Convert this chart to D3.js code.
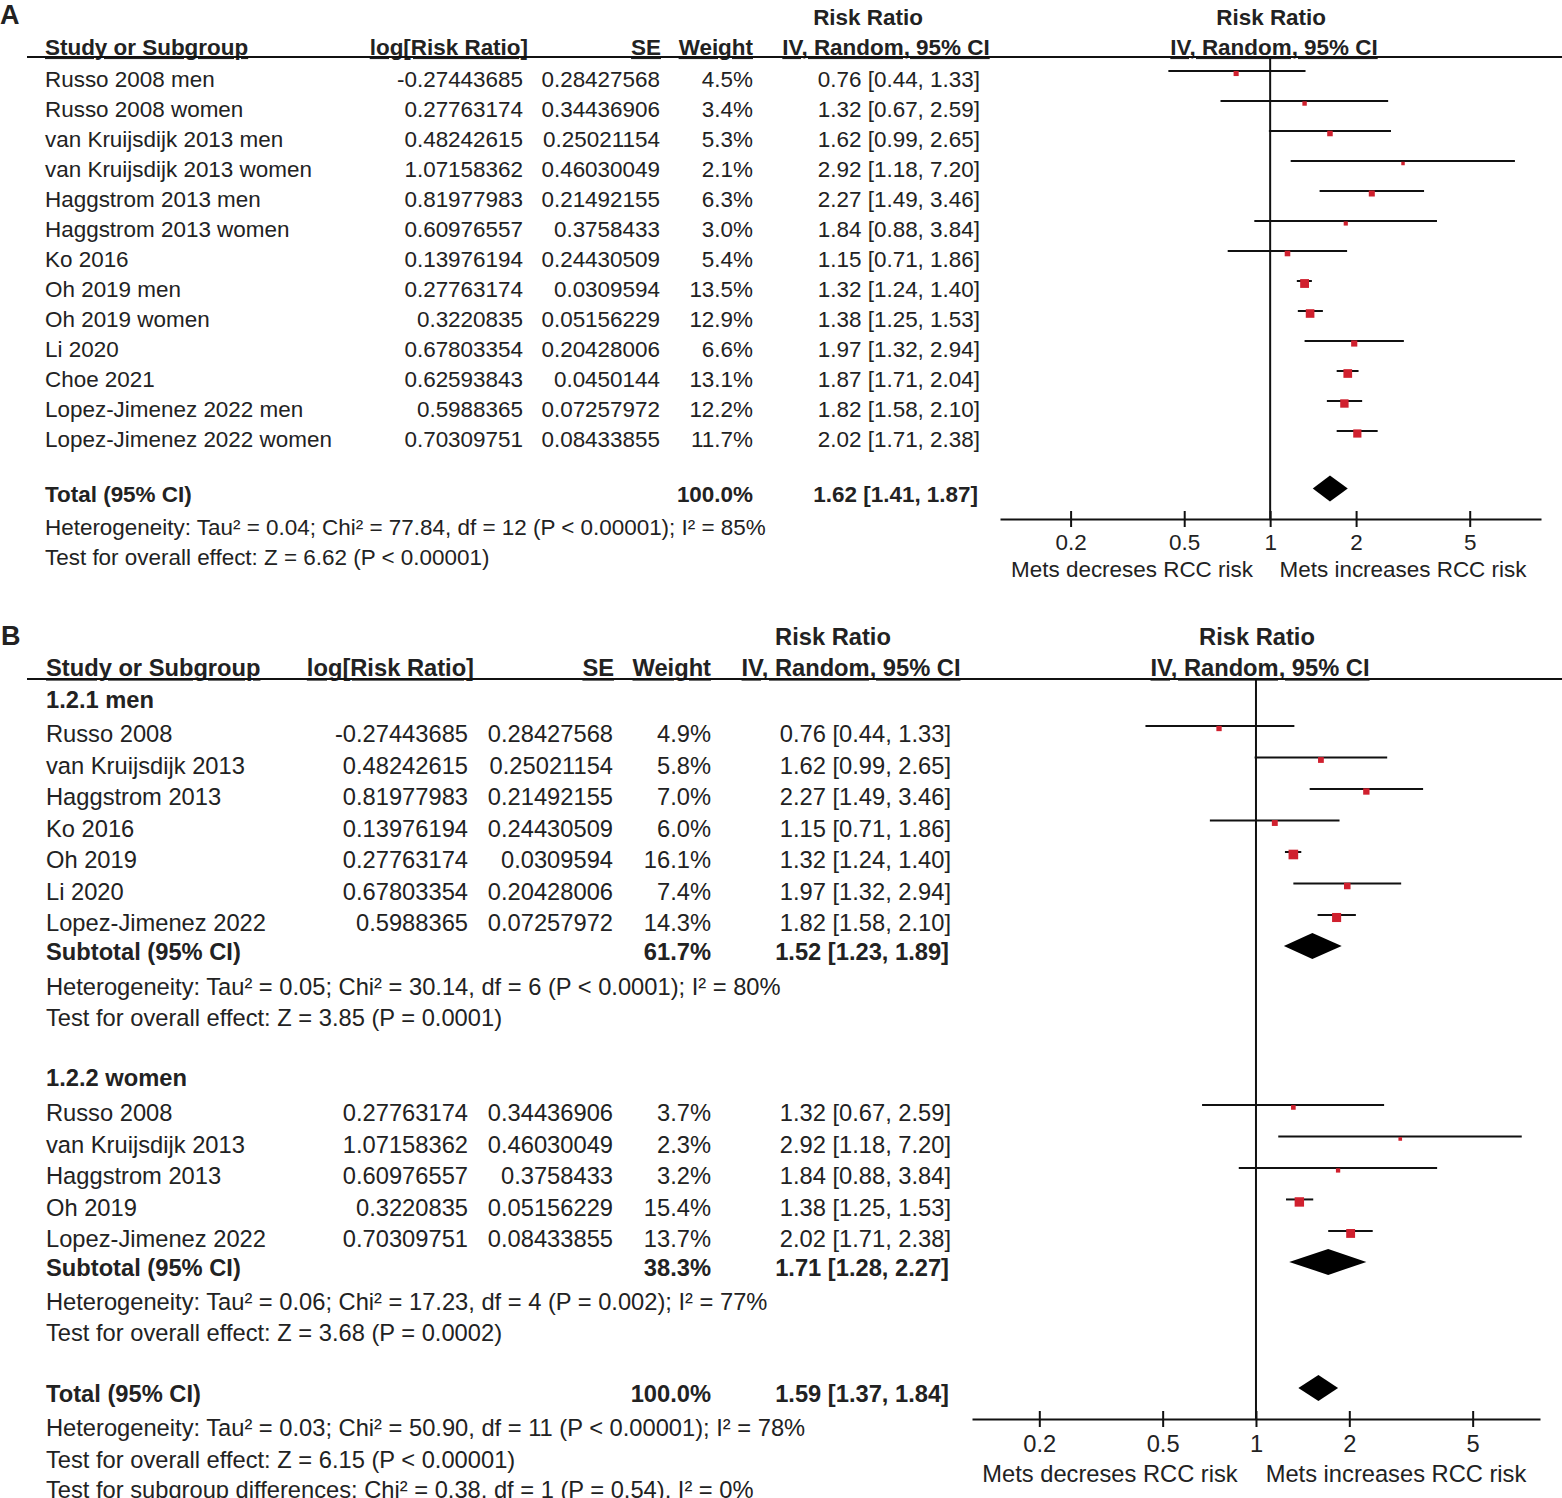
<!DOCTYPE html>
<html>
<head>
<meta charset="utf-8">
<script src="https://cdn.jsdelivr.net/npm/d3@7"></script>
<style>
body { margin: 0; background: #fff; }
svg { display: block; font-family: "Liberation Sans", Arial, Helvetica, sans-serif; }
text { fill: #222; }
</style>
</head>
<body>
<svg id="chart" width="1562" height="1498"></svg>
<script>
// ---- panel A: all studies ----
var studiesA = ["Russo 2008 men", "Russo 2008 women", "van Kruijsdijk 2013 men", "van Kruijsdijk 2013 women",
	"Haggstrom 2013 men", "Haggstrom 2013 women", "Ko 2016", "Oh 2019 men", "Oh 2019 women", "Li 2020",
	"Choe 2021", "Lopez-Jimenez 2022 men", "Lopez-Jimenez 2022 women"];
var logRrA = [-0.27443685, 0.27763174, 0.48242615, 1.07158362, 0.81977983, 0.60976557, 0.13976194,
	0.27763174, 0.3220835, 0.67803354, 0.62593843, 0.5988365, 0.70309751];
var seA = [0.28427568, 0.34436906, 0.25021154, 0.46030049, 0.21492155, 0.3758433, 0.24430509,
	0.0309594, 0.05156229, 0.20428006, 0.0450144, 0.07257972, 0.08433855];
var weightA = [4.5, 3.4, 5.3, 2.1, 6.3, 3.0, 5.4, 13.5, 12.9, 6.6, 13.1, 12.2, 11.7];
var rrA = [0.76, 1.32, 1.62, 2.92, 2.27, 1.84, 1.15, 1.32, 1.38, 1.97, 1.87, 1.82, 2.02];
var lowA = [0.44, 0.67, 0.99, 1.18, 1.49, 0.88, 0.71, 1.24, 1.25, 1.32, 1.71, 1.58, 1.71];
var highA = [1.33, 2.59, 2.65, 7.20, 3.46, 3.84, 1.86, 1.40, 1.53, 2.94, 2.04, 2.10, 2.38];
var totalA = [1.62, 1.41, 1.87];
var notesA = ["Heterogeneity: Tau\u00b2 = 0.04; Chi\u00b2 = 77.84, df = 12 (P < 0.00001); I\u00b2 = 85%",
	"Test for overall effect: Z = 6.62 (P < 0.00001)"];

// ---- panel B: by sex ----
var studiesMen = ["Russo 2008", "van Kruijsdijk 2013", "Haggstrom 2013", "Ko 2016", "Oh 2019", "Li 2020", "Lopez-Jimenez 2022"];
var logRrMen = [-0.27443685, 0.48242615, 0.81977983, 0.13976194, 0.27763174, 0.67803354, 0.5988365];
var seMen = [0.28427568, 0.25021154, 0.21492155, 0.24430509, 0.0309594, 0.20428006, 0.07257972];
var weightMen = [4.9, 5.8, 7.0, 6.0, 16.1, 7.4, 14.3];
var rrMen = [0.76, 1.62, 2.27, 1.15, 1.32, 1.97, 1.82];
var lowMen = [0.44, 0.99, 1.49, 0.71, 1.24, 1.32, 1.58];
var highMen = [1.33, 2.65, 3.46, 1.86, 1.40, 2.94, 2.10];
var subMen = [1.52, 1.23, 1.89];
var subMenWeight = 61.7;
var notesMen = ["Heterogeneity: Tau\u00b2 = 0.05; Chi\u00b2 = 30.14, df = 6 (P < 0.0001); I\u00b2 = 80%",
	"Test for overall effect: Z = 3.85 (P = 0.0001)"];

var studiesWomen = ["Russo 2008", "van Kruijsdijk 2013", "Haggstrom 2013", "Oh 2019", "Lopez-Jimenez 2022"];
var logRrWomen = [0.27763174, 1.07158362, 0.60976557, 0.3220835, 0.70309751];
var seWomen = [0.34436906, 0.46030049, 0.3758433, 0.05156229, 0.08433855];
var weightWomen = [3.7, 2.3, 3.2, 15.4, 13.7];
var rrWomen = [1.32, 2.92, 1.84, 1.38, 2.02];
var lowWomen = [0.67, 1.18, 0.88, 1.25, 1.71];
var highWomen = [2.59, 7.20, 3.84, 1.53, 2.38];
var subWomen = [1.71, 1.28, 2.27];
var subWomenWeight = 38.3;
var notesWomen = ["Heterogeneity: Tau\u00b2 = 0.06; Chi\u00b2 = 17.23, df = 4 (P = 0.002); I\u00b2 = 77%",
	"Test for overall effect: Z = 3.68 (P = 0.0002)"];

var totalB = [1.59, 1.37, 1.84];
var notesB = ["Heterogeneity: Tau\u00b2 = 0.03; Chi\u00b2 = 50.90, df = 11 (P < 0.00001); I\u00b2 = 78%",
	"Test for overall effect: Z = 6.15 (P < 0.00001)",
	"Test for subgroup differences: Chi\u00b2 = 0.38, df = 1 (P = 0.54), I\u00b2 = 0%"];

var tickValues = [0.2, 0.5, 1, 2, 5];
var favourLabels = ["Mets decreses RCC risk", "Mets increases RCC risk"];

var svg = d3.select("#chart");
svg.append("rect").attr("width", 1562).attr("height", 1498).attr("fill", "#fff");

function studyRows(names, lr, se, w, rr, lo, hi, firstSlot) {
	return names.map(function(n, i) {
		return { kind: "study", slot: firstSlot + i, name: n, log: lr[i], se: se[i], w: w[i], ci: [rr[i], lo[i], hi[i]] };
	});
}

function drawPanel(cfg) {
	var g = svg.append("g");
	var fs = cfg.fontSize;
	var y = d3.scaleLinear().domain([0, 1]).range([cfg.y0, cfg.y0 + cfg.step]);
	var x = d3.scaleLog().domain([0.2, 2]).range([cfg.xAt02, cfg.xAt02 + cfg.decade]);
	var xa = x.copy().domain([x.invert(cfg.axisX[0]), x.invert(cfg.axisX[1])]).range(cfg.axisX);
	var fmt2 = d3.format(".2f");

	function txt(px, py, s, anchor, bold, size, underline) {
		var t = g.append("text")
			.attr("x", px).attr("y", py).attr("dy", "0.35em")
			.attr("text-anchor", anchor || "start")
			.style("font-size", (size || fs) + "px")
			.style("font-weight", bold ? "bold" : "normal")
			.text(s);
		if (underline) t.style("text-decoration", "underline");
		return t;
	}
	function ciText(c) {
		return fmt2(c[0]) + " [" + fmt2(c[1]) + ", " + fmt2(c[2]) + "]";
	}

	// panel letter
	txt(cfg.letterX, cfg.letterY, cfg.letter, "start", true, 27);

	// headers
	var h = cfg.head;
	txt(h.rr1, h.y1, "Risk Ratio", "middle", true);
	txt(x(1) + 1, h.y1, "Risk Ratio", "middle", true);
	txt(cfg.col.name, h.y2, "Study or Subgroup", "start", true, null, true);
	txt(h.log, h.y2, "log[Risk Ratio]", "end", true, null, true);
	txt(h.se, h.y2, "SE", "end", true, null, true);
	txt(h.w, h.y2, "Weight", "end", true, null, true);
	txt(h.ci, h.y2, "IV, Random, 95% CI", "middle", true, null, true);
	txt(h.plot, h.y2, "IV, Random, 95% CI", "middle", true, null, true);

	g.append("line")
		.attr("x1", 27).attr("x2", 1562)
		.attr("y1", cfg.ruleY).attr("y2", cfg.ruleY)
		.attr("stroke", "#111").attr("stroke-width", 2);

	// line of no effect
	g.append("line")
		.attr("x1", x(1)).attr("x2", x(1))
		.attr("y1", cfg.ruleY).attr("y2", cfg.axisY)
		.attr("stroke", "#111").attr("stroke-width", 2);

	cfg.rows.forEach(function(r) {
		var ry = y(r.slot);
		if (r.kind === "note") {
			txt(cfg.col.name, ry, r.name);
			return;
		}
		if (r.kind === "group") {
			txt(cfg.col.name, ry, r.name, "start", true);
			return;
		}
		var bold = r.kind !== "study";
		txt(cfg.col.name, ry, r.name, "start", bold);
		if (r.kind === "study") {
			txt(cfg.col.log, ry, String(r.log), "end");
			txt(cfg.col.se, ry, String(r.se), "end");
		}
		txt(cfg.col.w, ry, r.w.toFixed(1) + "%", "end", bold);
		txt(cfg.col.ci - (bold ? 2 : 0), ry, ciText(r.ci), "end", bold);

		if (r.kind === "study") {
			var ly = ry - 8;
			g.append("line")
				.attr("x1", x(r.ci[1])).attr("x2", x(r.ci[2]))
				.attr("y1", ly).attr("y2", ly)
				.attr("stroke", "#111").attr("stroke-width", 2);
			var side = 2.4 * Math.sqrt(r.w);
			g.append("rect")
				.attr("x", x(r.ci[0]) - side / 2)
				.attr("y", ly + 2.5 - side / 2)
				.attr("width", side).attr("height", side)
				.attr("fill", "#d0202e");
		} else {
			var dy = ry - 6, hh = 13;
			g.append("path")
				.attr("d", "M" + x(r.ci[1]) + "," + dy +
					"L" + x(r.ci[0]) + "," + (dy - hh) +
					"L" + x(r.ci[2]) + "," + dy +
					"L" + x(r.ci[0]) + "," + (dy + hh) + "Z")
				.attr("fill", "#000");
		}
	});

	// axis
	var ax = g.append("g")
		.attr("transform", "translate(0," + cfg.axisY + ")")
		.call(d3.axisBottom(xa).tickValues(tickValues).tickFormat(function(d) { return String(d); }).tickSizeOuter(0));
	ax.select(".domain").attr("stroke", "#111").attr("stroke-width", 2);
	ax.selectAll(".tick line").attr("y1", -8).attr("y2", 8).attr("stroke", "#111").attr("stroke-width", 2);
	ax.selectAll(".tick text")
		.attr("y", cfg.tickLabelDy).attr("dy", "0.35em")
		.style("font-size", fs + "px").style("font-family", "inherit").attr("fill", "#222");

	txt(cfg.favourX[0], cfg.axisY + cfg.favourDy, favourLabels[0], "middle");
	txt(cfg.favourX[1], cfg.axisY + cfg.favourDy, favourLabels[1], "middle");
}

// panel A layout
var rowsA = studyRows(studiesA, logRrA, seA, weightA, rrA, lowA, highA, 0);
rowsA.push({ kind: "total", slot: 13.85, name: "Total (95% CI)", w: 100.0, ci: totalA });
rowsA.push({ kind: "note", slot: 14.93, name: notesA[0] });
rowsA.push({ kind: "note", slot: 15.93, name: notesA[1] });

drawPanel({
	letter: "A", letterX: 0, letterY: 15,
	fontSize: 22.45, y0: 79, step: 30,
	head: { y1: 17, y2: 47, rr1: 868, log: 528, se: 661, w: 753, ci: 886, plot: 1274 },
	col: { name: 45, log: 523, se: 660, w: 753, ci: 980 },
	ruleY: 57,
	xAt02: 1070.6, decade: 285.5, axisX: [1000, 1541], axisY: 519,
	tickLabelDy: 23, favourDy: 50, favourX: [1132, 1403],
	rows: rowsA
});

// panel B layout
var rowsB = [{ kind: "group", slot: -1.08, name: "1.2.1 men" }]
	.concat(studyRows(studiesMen, logRrMen, seMen, weightMen, rrMen, lowMen, highMen, 0))
	.concat([
		{ kind: "sub", slot: 6.92, name: "Subtotal (95% CI)", w: subMenWeight, ci: subMen },
		{ kind: "note", slot: 8.03, name: notesMen[0] },
		{ kind: "note", slot: 9.02, name: notesMen[1] },
		{ kind: "group", slot: 10.92, name: "1.2.2 women" }
	])
	.concat(studyRows(studiesWomen, logRrWomen, seWomen, weightWomen, rrWomen, lowWomen, highWomen, 12.03))
	.concat([
		{ kind: "sub", slot: 16.95, name: "Subtotal (95% CI)", w: subWomenWeight, ci: subWomen },
		{ kind: "note", slot: 18.03, name: notesWomen[0] },
		{ kind: "note", slot: 19.02, name: notesWomen[1] },
		{ kind: "total", slot: 20.95, name: "Total (95% CI)", w: 100.0, ci: totalB },
		{ kind: "note", slot: 22.03, name: notesB[0] },
		{ kind: "note", slot: 23.05, name: notesB[1] },
		{ kind: "note", slot: 24.0, name: notesB[2] }
	]);

drawPanel({
	letter: "B", letterX: 1, letterY: 636,
	fontSize: 23.7, y0: 734, step: 31.5,
	head: { y1: 637, y2: 668, rr1: 833, log: 474, se: 614, w: 711, ci: 851, plot: 1260 },
	col: { name: 46, log: 468, se: 613, w: 711, ci: 951 },
	ruleY: 679,
	xAt02: 1039.3, decade: 310, axisX: [972, 1540], axisY: 1419,
	tickLabelDy: 25, favourDy: 55, favourX: [1110, 1396],
	rows: rowsB
});
</script>
</body>
</html>
